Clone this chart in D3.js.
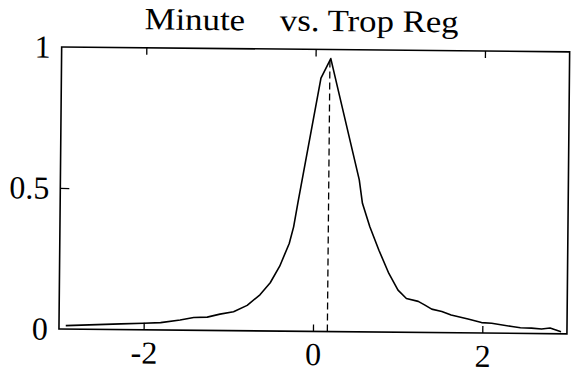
<!DOCTYPE html>
<html>
<head>
<meta charset="utf-8">
<script src="https://cdn.jsdelivr.net/npm/d3@7"></script>
<style>
  html, body { margin: 0; padding: 0; background: #fff; }
  svg { display: block; }
</style>
</head>
<body>
<svg id="chart" width="573" height="383"></svg>
<script>
// Distribution of differences, Minute vs. Trop Reg
const title = "Minute\u00a0\u00a0\u00a0\u00a0vs. Trop Reg";
const xValues = [-2.92, -2.27, -2.0, -1.80, -1.57, -1.41, -1.25, -1.10, -0.94, -0.78,
                 -0.63, -0.51, -0.40, -0.29, -0.24, -0.19, 0.066, 0.18, 0.53, 0.57,
                 0.66, 0.77, 0.89, 1.0, 1.1, 1.24, 1.32, 1.40, 1.52, 1.63,
                 1.83, 1.99, 2.11, 2.35, 2.45, 2.58, 2.7, 2.8, 2.93];
const yValues = [0.012, 0.02, 0.023, 0.026, 0.036, 0.045, 0.047, 0.058, 0.067, 0.09,
                 0.128, 0.171, 0.23, 0.311, 0.37, 0.46, 0.898, 0.968, 0.539, 0.456,
                 0.373, 0.29, 0.208, 0.149, 0.12, 0.11, 0.097, 0.083, 0.075, 0.063,
                 0.049, 0.037, 0.035, 0.024, 0.02, 0.019, 0.016, 0.02, 0.007];
const markerX = 0.17;          // dashed reference line position
const markerTop = 0.96;
const xTicks = [-2, 0, 2];
const yTicks = [0, 0.5, 1];
const yTickLabels = ["0", "0.5", "1"];

const serif = '"Liberation Serif", "Times New Roman", Times, serif';

const svg = d3.select("#chart");
const box = { left: 60.3, right: 568.3, top: 49.4, bottom: 331.4 };
const cx = (box.left + box.right) / 2, cy = (box.top + box.bottom) / 2;

const x = d3.scaleLinear().domain([-3, 3]).range([box.left, box.right]);
const y = d3.scaleLinear().domain([0, 1]).range([box.bottom, box.top]);

const g = svg.append("g").attr("transform", `rotate(0.55 ${cx} ${cy})`);

// frame
g.append("rect")
  .attr("x", box.left).attr("y", box.top)
  .attr("width", box.right - box.left).attr("height", box.bottom - box.top)
  .attr("fill", "none").attr("stroke", "#000").attr("stroke-width", 1.6);

// bottom axis (ticks point inward)
const bottomAxis = d3.axisBottom(x).tickValues(xTicks).tickSize(-7).tickPadding(11)
  .tickFormat(d => d < 0 ? "-" + Math.abs(d) : String(d));
const ba = g.append("g").attr("transform", `translate(0,${box.bottom})`).call(bottomAxis);
ba.attr("font-family", null).attr("font-size", null);
ba.select(".domain").remove();
ba.selectAll("line").attr("stroke", "#000").attr("stroke-width", 1.3);
ba.selectAll("text").style("font-family", serif).style("font-size", "32px")
  .attr("fill", "#000").attr("dy", "0.71em");

// top axis mirror ticks
const topAxis = d3.axisTop(x).tickValues(xTicks).tickSize(-7).tickFormat("");
const ta = g.append("g").attr("transform", `translate(0,${box.top})`).call(topAxis);
ta.select(".domain").remove();
ta.selectAll("line").attr("stroke", "#000").attr("stroke-width", 1.3);

// left axis
const leftAxis = d3.axisLeft(y).tickValues(yTicks).tickSize(0).tickPadding(11)
  .tickFormat((d, i) => yTickLabels[i]);
const la = g.append("g").attr("transform", `translate(${box.left},0)`).call(leftAxis);
la.attr("font-family", null).attr("font-size", null);
la.select(".domain").remove();
la.selectAll("text").style("font-family", serif).style("font-size", "32px").attr("fill", "#000");
la.selectAll(".tick").filter(d => d === 0.5).append("line")
  .attr("x1", 0).attr("x2", 9).attr("stroke", "#000").attr("stroke-width", 1.3);

// curve
const pts = xValues.map((v, i) => [v, yValues[i]]);
g.append("path")
  .datum(pts)
  .attr("fill", "none").attr("stroke", "#000").attr("stroke-width", 1.6)
  .attr("stroke-linejoin", "round")
  .attr("d", d3.line().x(d => x(d[0])).y(d => y(d[1])));

// dashed marker line
g.append("line")
  .attr("x1", x(markerX)).attr("x2", x(markerX))
  .attr("y1", y(0)).attr("y2", y(markerTop))
  .attr("stroke", "#000").attr("stroke-width", 1.3).attr("stroke-dasharray", "7,4");

// title
g.append("text")
  .attr("x", 143).attr("y", 31)
  .attr("textLength", 314).attr("lengthAdjust", "spacingAndGlyphs")
  .style("font-family", serif).style("font-size", "31px")
  .text(title);
</script>
</body>
</html>
